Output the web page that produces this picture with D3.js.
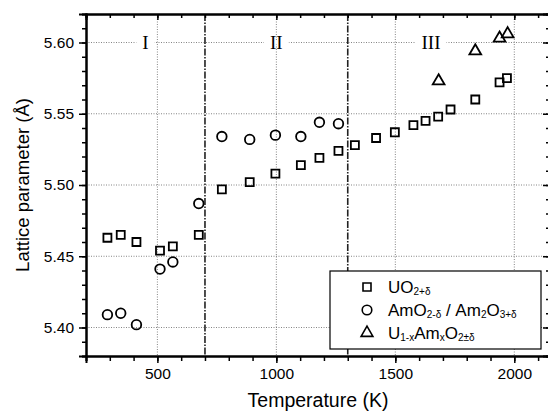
<!DOCTYPE html>
<html>
<head>
<meta charset="utf-8">
<script src="https://cdn.jsdelivr.net/npm/d3@7"></script>
<style>
  body { margin: 0; background: #fff; }
  text { font-family: "Liberation Sans", Arial, sans-serif; }
</style>
</head>
<body>
<script>
// UO2+d
var uoT = [290, 346, 412, 511, 565, 674, 771, 888, 996, 1103, 1181, 1261, 1330, 1419, 1498, 1576, 1627, 1680, 1732, 1836, 1938, 1969];
var uoA = [5.463, 5.465, 5.460, 5.454, 5.457, 5.465, 5.497, 5.502, 5.508, 5.514, 5.519, 5.524, 5.528, 5.533, 5.537, 5.542, 5.545, 5.548, 5.553, 5.560, 5.572, 5.575];
// AmO2-d / Am2O3+d
var amT = [290, 346, 412, 511, 565, 674, 771, 888, 996, 1103, 1181, 1261];
var amA = [5.409, 5.410, 5.402, 5.441, 5.446, 5.487, 5.534, 5.532, 5.535, 5.534, 5.544, 5.543];
// U1-xAmxO2+-d
var uamT = [1682, 1836, 1938, 1972];
var uamA = [5.573, 5.594, 5.603, 5.606];

var xTicks = [500, 1000, 1500, 2000];
var yTicks = [5.40, 5.45, 5.50, 5.55, 5.60];
var borders = [700, 1300];
var regions = [{t: 450, s: "I"}, {t: 1000, s: "II"}, {t: 1650, s: "III"}];

var W = 548, H = 412;
var m = {l: 86, r: 550, t: 14, b: 356};

var svg = d3.select("body").append("svg").attr("width", W).attr("height", H);

var x = d3.scaleLinear().domain([200, 2150]).range([m.l, m.r]);
var y = d3.scaleLinear().domain([5.38, 5.62]).range([m.b, m.t]);

// grid
svg.append("g").selectAll("line").data(xTicks).enter().append("line")
  .attr("x1", d => x(d)).attr("x2", d => x(d)).attr("y1", m.t).attr("y2", m.b)
  .attr("stroke", "#666").attr("stroke-width", 0.8).attr("stroke-dasharray", "1,1.5");
svg.append("g").selectAll("line").data(yTicks).enter().append("line")
  .attr("x1", m.l).attr("x2", m.r).attr("y1", d => y(d)).attr("y2", d => y(d))
  .attr("stroke", "#666").attr("stroke-width", 0.8).attr("stroke-dasharray", "1,1.5");

// region borders
svg.append("g").selectAll("line").data(borders).enter().append("line")
  .attr("x1", d => x(d)).attr("x2", d => x(d)).attr("y1", m.t).attr("y2", m.b)
  .attr("stroke", "#222").attr("stroke-width", 1.6).attr("stroke-dasharray", "7,1.5,1.5,1.5");

// region labels
var rl = svg.append("g");
regions.forEach(function (r) {
  var t = rl.append("text").attr("x", x(r.t)).attr("y", y(5.60) + 6)
    .attr("text-anchor", "middle").style("font-family", "'Liberation Serif', 'DejaVu Serif', serif")
    .style("font-size", "19px").text(r.s);
  var bb = t.node().getBBox();
  rl.insert("rect", "text").attr("x", bb.x - 6).attr("y", y(5.60) - 2).attr("width", bb.width + 12).attr("height", 4).attr("fill", "#fff");
});

// axes
var minorX = d3.range(200, 2150, 100);
var minorY = d3.range(5.38, 5.6201, 0.01);

svg.append("g").attr("transform", "translate(0," + m.b + ")")
  .call(d3.axisBottom(x).tickValues(minorX).tickSize(5).tickFormat(""));
svg.append("g").attr("transform", "translate(0," + m.b + ")")
  .call(d3.axisBottom(x).tickValues(xTicks).tickSize(7).tickPadding(5).tickFormat(d3.format("d")))
  .call(g => g.selectAll("text").style("font-size", "15.5px").attr("fill", "#000"));
svg.append("g").attr("transform", "translate(0," + m.t + ")")
  .call(d3.axisBottom(x).tickValues(minorX).tickSize(4).tickFormat(""));
svg.append("g").attr("transform", "translate(0," + m.t + ")")
  .call(d3.axisBottom(x).tickValues(xTicks).tickSize(6).tickFormat(""));

svg.append("g").attr("transform", "translate(" + m.l + ",0)")
  .call(d3.axisLeft(y).tickValues(minorY).tickSize(4).tickFormat(""));
svg.append("g").attr("transform", "translate(" + m.l + ",0)")
  .call(d3.axisLeft(y).tickValues(yTicks).tickSize(7).tickPadding(5).tickFormat(d3.format(".2f")))
  .call(g => g.selectAll("text").style("font-size", "15.5px").attr("fill", "#000"));
svg.append("g").attr("transform", "translate(" + m.r + ",0)")
  .call(d3.axisLeft(y).tickValues(minorY).tickSize(4).tickFormat(""));
svg.append("g").attr("transform", "translate(" + m.r + ",0)")
  .call(d3.axisLeft(y).tickValues(yTicks).tickSize(7).tickFormat(""));

svg.selectAll(".domain").attr("stroke", "#000").attr("stroke-width", 2);
svg.selectAll(".tick line").attr("stroke", "#000").attr("stroke-width", 1.5);

// titles
svg.append("text").attr("x", (m.l + m.r) / 2).attr("y", 407).attr("text-anchor", "middle")
  .style("font-size", "19.5px").text("Temperature (K)");
svg.append("text").attr("transform", "translate(29," + (m.t + m.b) / 2 + ") rotate(-90)")
  .attr("text-anchor", "middle").style("font-size", "18.5px").text("Lattice parameter (Å)");

// markers
var sq = d3.symbol().type(d3.symbolSquare).size(64);
var ci = d3.symbol().type(d3.symbolCircle).size(72);
var tr = d3.symbol().type(d3.symbolTriangle).size(60);

function plot(ts, as, sym) {
  svg.append("g").selectAll("path").data(ts).enter().append("path")
    .attr("transform", (d, i) => "translate(" + x(d) + "," + y(as[i]) + ")")
    .attr("d", sym).attr("fill", "none").attr("stroke", "#000").attr("stroke-width", 1.8);
}
plot(uoT, uoA, sq);
plot(amT, amA, ci);
plot(uamT, uamA, tr);

// legend
var lg = svg.append("g").attr("transform", "translate(330,271)");
lg.append("rect").attr("width", 211).attr("height", 78).attr("fill", "#fff").attr("stroke", "#000").attr("stroke-width", 1.2);
var items = [
  {sym: sq, parts: [["UO", 0], ["2+δ", 1]]},
  {sym: ci, parts: [["AmO", 0], ["2-δ", 1], [" / Am", 0], ["2", 1], ["O", 0], ["3+δ", 1]]},
  {sym: tr, parts: [["U", 0], ["1-x", 1], ["Am", 0], ["x", 1], ["O", 0], ["2±δ", 1]]}
];
items.forEach(function (it, i) {
  var cy = 16 + i * 23;
  lg.append("path").attr("transform", "translate(37," + cy + ")").attr("d", it.sym)
    .attr("fill", "none").attr("stroke", "#000").attr("stroke-width", 1.6);
  var t = lg.append("text").attr("x", 58).attr("y", cy + 6).style("font-size", "17px");
  it.parts.forEach(function (p, j) {
    var prev = j > 0 ? it.parts[j - 1][1] : 0;
    var s = t.append("tspan").text(p[0]);
    if (p[1]) s.style("font-size", "10px");
    s.attr("dy", p[1] && !prev ? 2 : (!p[1] && prev ? -2 : 0));
  });
});
</script>
</body>
</html>
